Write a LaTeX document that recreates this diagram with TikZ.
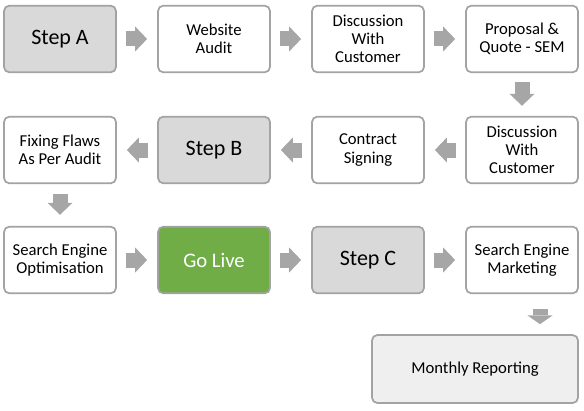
\documentclass[tikz,border=0pt]{standalone}
\usepackage{fontspec}
\setmainfont{Carlito}
\usepackage{tikz}
\usetikzlibrary{arrows.meta, positioning, calc}
\definecolor{boxborder}{HTML}{A3A3A3}
\definecolor{stepgray}{HTML}{D9D9D9}
\definecolor{arrowgray}{HTML}{A6A6A6}
\definecolor{golivegreen}{HTML}{70AD47}
\definecolor{reportgray}{HTML}{EFEFEF}

\begin{document}
\begin{tikzpicture}[
    x=0.75pt, y=-0.75pt,
    box/.style={
        draw=boxborder,
        line width=1.3pt,
        fill=white,
        rounded corners=4pt,
        minimum width=84pt,
        minimum height=50pt,
        inner sep=2pt,
        align=center,
        font=\fontsize{12.5}{13.6}\selectfont
    },
    stepbox/.style={
        box,
        fill=stepgray,
        font=\fontsize{16.5}{18}\selectfont
    },
    flow/.style={
        draw=arrowgray,
        line width=11.25pt,
        -{Triangle[length=9pt, width=18.75pt, line width=0pt]},
        shorten <=6.75pt,
        shorten >=7.5pt
    }
]

\useasboundingbox (0,0) rectangle (584,410);

% Row 1
\node[stepbox] (stepa) at (60,39) {Step A};
\node[box] (audit) at (214,39) {Website\\Audit};
\node[box] (discuss) at (368,39) {Discussion\\With\\Customer};
\node[box] (proposal) at (522,39) {Proposal \&\\Quote - SEM};

% Row 2
\node[box] (discussb) at (522,150) {Discussion\\With\\Customer};
\node[box] (contract) at (368,150) {Contract\\Signing};
\node[stepbox] (stepb) at (214,150) {Step B};
\node[box] (fixing) at (60,150) {Fixing Flaws\\As Per Audit};

% Row 3
\node[box] (seo) at (60,260) {Search Engine\\Optimisation};
\node[stepbox, fill=golivegreen, text=white, font=\fontsize{15.5}{17}\selectfont] (golive) at (214,260) {Go Live};
\node[stepbox] (stepc) at (368,260) {Step C};
\node[box] (sem) at (522,260) {Search Engine\\Marketing};

% Row 4
\node[box, fill=reportgray, minimum width=154.5pt, minimum height=51pt] (report) at (475,369) {Monthly Reporting};

% Arrows
\draw[flow] (stepa) -- (audit);
\draw[flow] (audit) -- (discuss);
\draw[flow] (discuss) -- (proposal);
\draw[flow] (proposal) -- (discussb);
\draw[flow] (discussb) -- (contract);
\draw[flow] (contract) -- (stepb);
\draw[flow] (stepb) -- (fixing);
\draw[flow, shorten <=7.5pt, shorten >=8.25pt] (fixing) -- (seo);
\draw[flow] (seo) -- (golive);
\draw[flow] (golive) -- (stepc);
\draw[flow] (stepc) -- (sem);
\draw[flow, -{Triangle[length=6.5pt, width=18.75pt, line width=0pt]}, shorten <=11pt, shorten >=7.5pt]
    ([xshift=13.5pt]sem.south) -- ([xshift=13.5pt]sem.south |- report.north);

\end{tikzpicture}
\end{document}
